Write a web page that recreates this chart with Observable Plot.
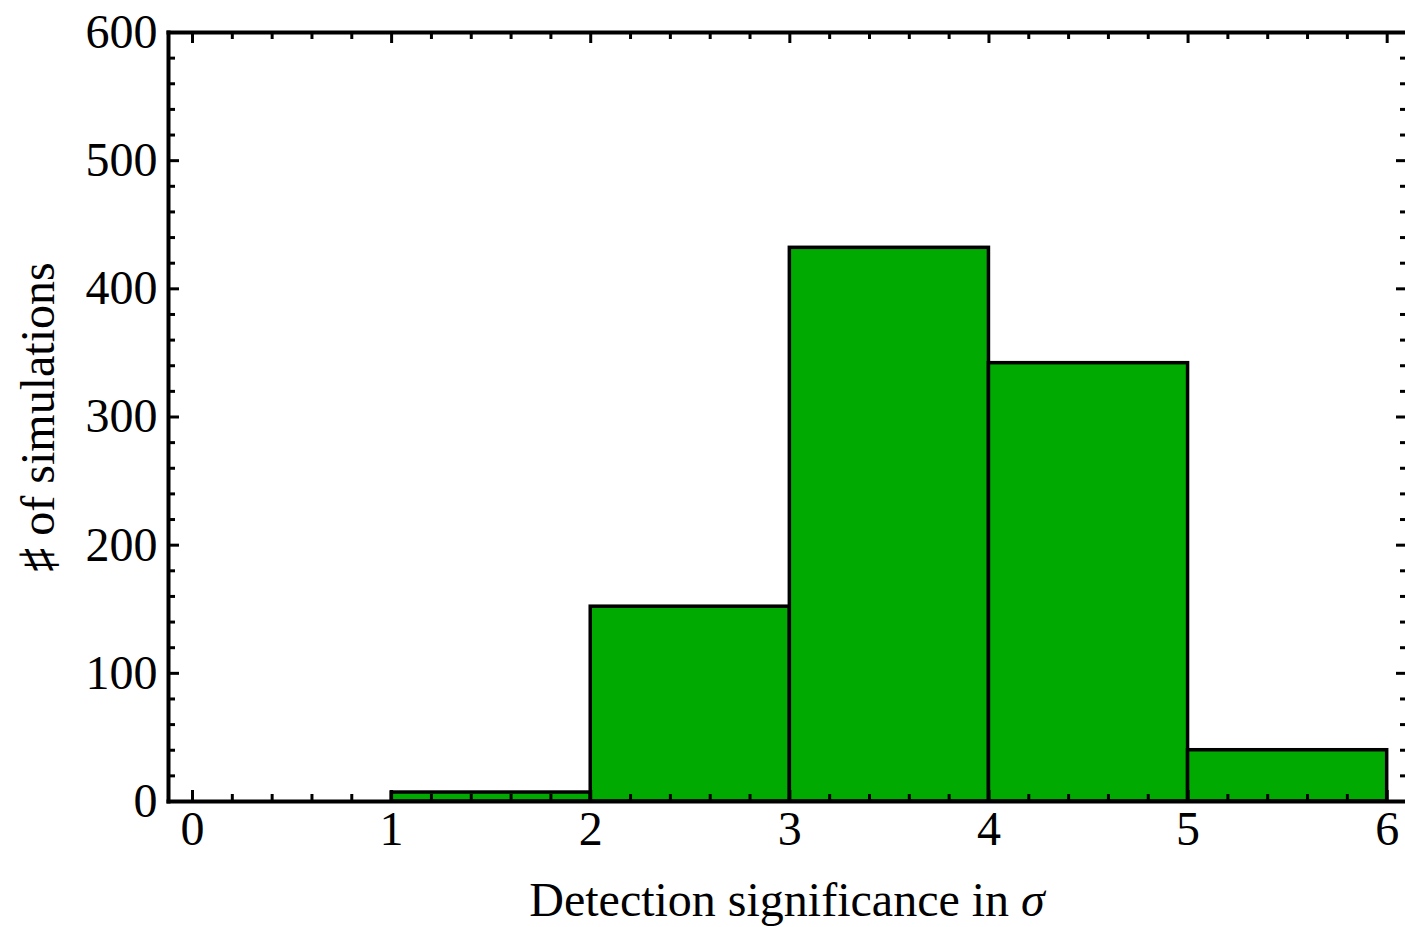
<!DOCTYPE html>
<html>
<head>
<meta charset="utf-8">
<script src="https://cdn.jsdelivr.net/npm/d3@7"></script>
<script src="https://cdn.jsdelivr.net/npm/@observablehq/plot@0.6"></script>
<style>
  html, body { margin: 0; padding: 0; background: #fff; }
</style>
</head>
<body>
<div id="chart"></div>
<script>
// Histogram bins (lower edge, upper edge) and counts
const binLo = [1, 2, 3, 4, 5];
const binHi = [2, 3, 4, 5, 6];
const counts = [7, 152, 432, 342, 40];

// Tick definitions
const xMajor = [0, 1, 2, 3, 4, 5, 6];
const xMinor = d3.range(0, 6.001, 0.2).filter(v => Math.abs(v - Math.round(v)) > 1e-6);
const yMajor = [0, 100, 200, 300, 400, 500, 600];
const yMinor = d3.range(0, 601, 20).filter(v => v % 100 !== 0);

const xTitle = "Detection significance in ";
const yTitle = "\u266F of simulations";

const bins = binLo.map((lo, i) => ({x1: lo, x2: binHi[i], y: counts[i]}));

const W = 1405, H = 927;
const mL = 168, mR = 0, mT = 32, mB = 126;
const pw = W - mL - mR, ph = H - mT - mB;
const majLen = 11, minLen = 7;
const fs = 48;

const chart = Plot.plot({
  width: W,
  height: H,
  marginLeft: mL,
  marginRight: mR,
  marginTop: mT,
  marginBottom: mB,
  style: {fontFamily: "'Liberation Serif', 'Times New Roman', serif", fontSize: fs + "px", color: "black", background: "white", overflow: "visible"},
  x: {domain: [-0.1205, 6.092]},
  y: {domain: [0, 600]},
  marks: [
    Plot.rect(bins, {x1: "x1", x2: "x2", y1: 0, y2: "y", fill: "#00aa00", stroke: "black", strokeWidth: 3.5}),
    // bottom ticks
    Plot.tickX(xMajor, {x: d => d, insetTop: ph - majLen, stroke: "black", strokeWidth: 3}),
    Plot.tickX(xMinor, {x: d => d, insetTop: ph - minLen, stroke: "black", strokeWidth: 3}),
    // top ticks
    Plot.tickX(xMajor, {x: d => d, insetBottom: ph - majLen, stroke: "black", strokeWidth: 3}),
    Plot.tickX(xMinor, {x: d => d, insetBottom: ph - minLen, stroke: "black", strokeWidth: 3}),
    // left ticks
    Plot.tickY(yMajor, {y: d => d, insetRight: pw - majLen, stroke: "black", strokeWidth: 3}),
    Plot.tickY(yMinor, {y: d => d, insetRight: pw - minLen, stroke: "black", strokeWidth: 3}),
    // right ticks
    Plot.tickY(yMajor, {y: d => d, insetLeft: pw - majLen + 2, stroke: "black", strokeWidth: 3}),
    Plot.tickY(yMinor, {y: d => d, insetLeft: pw - minLen + 2, stroke: "black", strokeWidth: 3}),
    Plot.frame({anchor: "left", stroke: "black", strokeWidth: 4}),
    Plot.frame({anchor: "top", stroke: "black", strokeWidth: 4}),
    Plot.frame({anchor: "bottom", stroke: "black", strokeWidth: 4}),
    Plot.axisX({ticks: xMajor, tickSize: 0, tickPadding: 9, tickFormat: d => String(d), label: null, fontSize: fs}),
    Plot.axisY({ticks: yMajor, tickSize: 0, tickPadding: 11, tickFormat: d => String(d), label: null, fontSize: fs}),
    Plot.text([xTitle], {text: d => d, frameAnchor: "bottom", dy: 99, fontSize: fs, lineAnchor: "middle", className: "xtitle"}),
    Plot.text([yTitle], {text: d => d, frameAnchor: "left", dx: -130, rotate: -90, textAnchor: "middle", fontSize: fs, className: "ytitle"})
  ]
});

// Add italic sigma to the x title
const xt = chart.querySelector(".xtitle text");
if (xt) {
  const ts = document.createElementNS("http://www.w3.org/2000/svg", "tspan");
  ts.setAttribute("font-style", "italic");
  ts.textContent = "\u03C3";
  xt.appendChild(ts);
}
document.getElementById("chart").appendChild(chart);
</script>
</body>
</html>
